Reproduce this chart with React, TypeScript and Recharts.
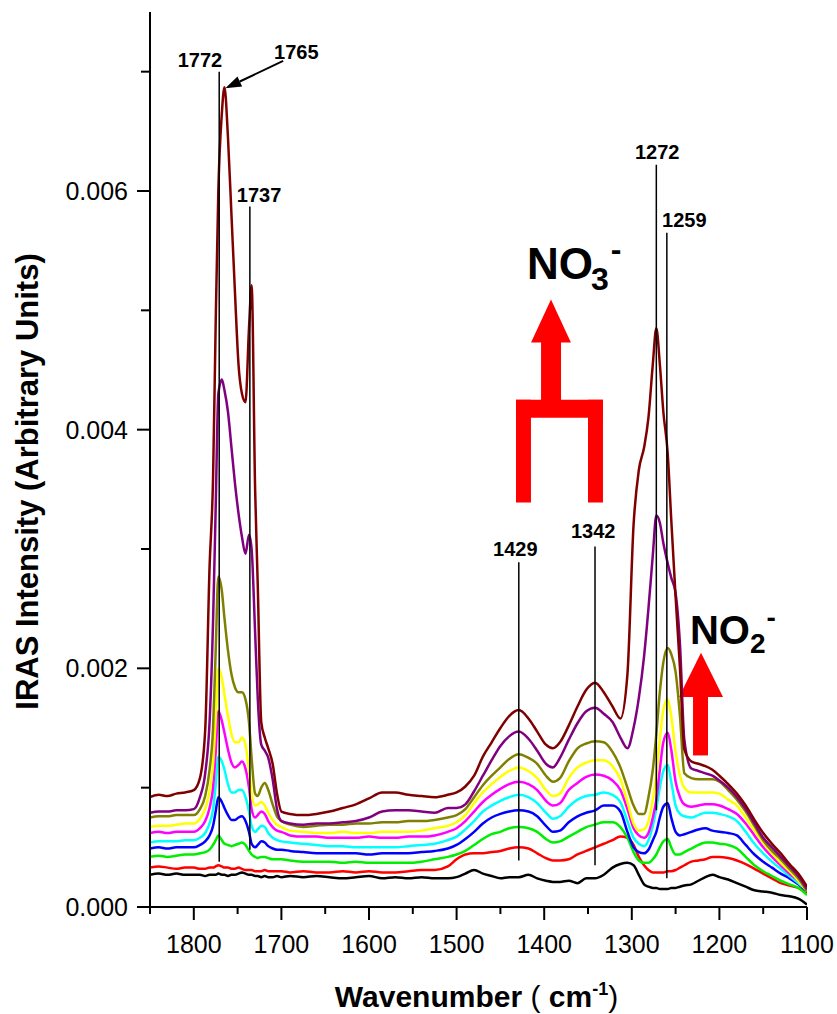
import { LineChart, Line, XAxis, YAxis, ReferenceLine, ReferenceArea, ReferenceDot } from 'recharts'

const FONT = "'Liberation Sans', Arial, sans-serif"

// wavenumber grid (cm-1)
const WAVENUMBERS = [
  1850, 1840, 1830, 1820, 1810, 1800,
  1793, 1787, 1782, 1778, 1775, 1772, 1768, 1765, 1761, 1757, 1753, 1749, 1745, 1741, 1737, 1734, 1730, 1727, 1723, 1719, 1715, 1710, 1705, 1700,
  1690, 1675, 1660, 1645, 1630, 1615, 1600, 1585, 1570, 1555, 1540, 1525, 1510,
  1500, 1490, 1480, 1470, 1460, 1450, 1440, 1429,
  1418, 1408, 1398, 1390, 1382, 1372, 1362, 1352, 1342,
  1332, 1322, 1313, 1305, 1298, 1292, 1286, 1281, 1276, 1272,
  1268, 1264, 1259, 1255, 1250, 1245, 1240, 1232, 1224, 1216, 1208, 1200,
  1190, 1180, 1170, 1160, 1150, 1140, 1130, 1120, 1110, 1100,
]

// intensities, in units of 1e-3
const BLACK = [
  0.27, 0.28, 0.27, 0.28, 0.27, 0.27,
  0.27, 0.26, 0.27, 0.27, 0.27, 0.28, 0.27, 0.27, 0.26, 0.27, 0.27, 0.28, 0.29, 0.28, 0.27, 0.27, 0.26, 0.26, 0.25, 0.26, 0.25, 0.25, 0.26, 0.25,
  0.26, 0.25, 0.26, 0.25, 0.24, 0.25, 0.26, 0.24, 0.25, 0.24, 0.25, 0.24, 0.24,
  0.25, 0.28, 0.31, 0.28, 0.26, 0.24, 0.25, 0.25,
  0.27, 0.24, 0.22, 0.21, 0.21, 0.22, 0.2, 0.24, 0.24,
  0.27, 0.33, 0.36, 0.37, 0.35, 0.27, 0.19, 0.17, 0.16, 0.16,
  0.15, 0.15, 0.15, 0.16, 0.16, 0.17, 0.18, 0.19, 0.22, 0.25, 0.27, 0.25,
  0.23, 0.2, 0.17, 0.14, 0.13, 0.12, 0.1, 0.09, 0.07, 0.02,
]
const RED = [
  0.33, 0.34, 0.33, 0.32, 0.33, 0.33,
  0.32, 0.32, 0.33, 0.33, 0.34, 0.35, 0.34, 0.33, 0.33, 0.32, 0.32, 0.33, 0.32, 0.31, 0.31, 0.31, 0.3, 0.3, 0.3, 0.31, 0.3, 0.3, 0.3, 0.3,
  0.29, 0.3, 0.29, 0.29, 0.3, 0.29, 0.3, 0.29, 0.29, 0.3, 0.31, 0.31, 0.34,
  0.4, 0.44, 0.45, 0.45, 0.46, 0.47, 0.49, 0.5,
  0.49, 0.45, 0.41, 0.39, 0.39, 0.4, 0.44, 0.47, 0.5,
  0.53, 0.56, 0.59, 0.58, 0.52, 0.42, 0.35, 0.31, 0.29, 0.29,
  0.29, 0.29, 0.3, 0.3, 0.31, 0.33, 0.35, 0.38, 0.39, 0.4, 0.42, 0.42,
  0.41, 0.39, 0.36, 0.32, 0.28, 0.24, 0.2, 0.18, 0.16, 0.12,
]
const GREEN = [
  0.42, 0.43, 0.42, 0.43, 0.44, 0.44,
  0.45, 0.46, 0.48, 0.52, 0.56, 0.6, 0.56, 0.53, 0.52, 0.51, 0.52, 0.53, 0.54, 0.52, 0.47, 0.44, 0.42, 0.41, 0.42, 0.42, 0.41, 0.4, 0.4, 0.4,
  0.39, 0.38, 0.38, 0.38, 0.37, 0.38, 0.37, 0.37, 0.37, 0.37, 0.38, 0.4, 0.42,
  0.44, 0.47, 0.52, 0.57, 0.61, 0.63, 0.66, 0.67,
  0.66, 0.63, 0.57, 0.54, 0.55, 0.59, 0.63, 0.67, 0.69,
  0.71, 0.71, 0.67, 0.58, 0.46, 0.39, 0.37, 0.37, 0.4, 0.44,
  0.5, 0.55, 0.57, 0.5, 0.44, 0.44, 0.46, 0.49, 0.52, 0.54, 0.54, 0.53,
  0.52, 0.49, 0.42, 0.35, 0.3, 0.26, 0.22, 0.19, 0.16, 0.1,
]
const BLUE = [
  0.49, 0.5, 0.49, 0.5, 0.5, 0.5,
  0.52, 0.55, 0.6, 0.68, 0.8, 0.92, 0.88, 0.83, 0.77, 0.73, 0.73, 0.75, 0.76, 0.72, 0.63, 0.53, 0.5, 0.52, 0.55, 0.54, 0.51, 0.49, 0.48, 0.48,
  0.47, 0.46, 0.45, 0.45, 0.45, 0.45, 0.44, 0.45, 0.45, 0.45, 0.46, 0.47, 0.49,
  0.52, 0.57, 0.63, 0.7, 0.75, 0.78, 0.8, 0.81,
  0.8, 0.76, 0.68, 0.63, 0.64, 0.71, 0.76, 0.79, 0.81,
  0.85, 0.85, 0.8, 0.63, 0.5, 0.46, 0.45, 0.48, 0.56, 0.63,
  0.75, 0.84, 0.87, 0.75, 0.63, 0.6, 0.61, 0.63, 0.65, 0.66, 0.64, 0.63,
  0.62, 0.6, 0.52, 0.44, 0.38, 0.33, 0.28, 0.24, 0.19, 0.13,
]
const CYAN = [
  0.54, 0.55, 0.55, 0.55, 0.56, 0.56,
  0.58, 0.62, 0.7, 0.82, 1.02, 1.26, 1.22, 1.15, 1.03, 0.96, 0.96, 0.98, 0.98, 0.92, 0.8, 0.68, 0.63, 0.65, 0.68, 0.67, 0.62, 0.58, 0.56, 0.55,
  0.54, 0.53, 0.52, 0.51, 0.51, 0.5, 0.5, 0.5, 0.5, 0.51, 0.52, 0.53, 0.56,
  0.59, 0.65, 0.72, 0.8, 0.85, 0.89, 0.92, 0.94,
  0.92, 0.87, 0.79, 0.74, 0.76, 0.84, 0.9, 0.93, 0.94,
  0.96, 0.94, 0.88, 0.72, 0.58, 0.53, 0.51, 0.56, 0.68, 0.82,
  1.0, 1.14, 1.19, 1.05, 0.85, 0.78, 0.76, 0.75, 0.77, 0.79, 0.79, 0.78,
  0.76, 0.72, 0.63, 0.53, 0.45, 0.38, 0.32, 0.26, 0.2, 0.14,
]
const MAGENTA = [
  0.62, 0.63, 0.62, 0.63, 0.63, 0.63,
  0.66, 0.72, 0.83, 1.0, 1.3, 1.64, 1.56, 1.46, 1.32, 1.21, 1.17, 1.19, 1.22, 1.16, 1.0, 0.82, 0.75, 0.77, 0.8, 0.78, 0.72, 0.67, 0.64, 0.63,
  0.6, 0.59, 0.59, 0.58, 0.58, 0.58, 0.59, 0.58, 0.58, 0.59, 0.59, 0.6, 0.63,
  0.66, 0.72, 0.8, 0.88, 0.94, 0.99, 1.03, 1.05,
  1.03, 0.98, 0.89, 0.85, 0.87, 0.98, 1.04, 1.09, 1.11,
  1.1, 1.06, 0.98, 0.82, 0.66, 0.6, 0.58, 0.62, 0.75, 0.9,
  1.15, 1.38, 1.46, 1.32, 1.05, 0.92, 0.86, 0.84, 0.85, 0.86, 0.86, 0.85,
  0.82, 0.78, 0.7, 0.6, 0.5, 0.42, 0.35, 0.28, 0.22, 0.14,
]
const YELLOW = [
  0.67, 0.68, 0.68, 0.69, 0.7, 0.7,
  0.74, 0.82, 0.97, 1.2, 1.58, 2.0, 1.92, 1.78, 1.6, 1.45, 1.38, 1.38, 1.42, 1.36, 1.14, 0.95, 0.85, 0.86, 0.88, 0.85, 0.79, 0.73, 0.69, 0.67,
  0.64, 0.63, 0.62, 0.62, 0.63, 0.62, 0.62, 0.63, 0.63, 0.63, 0.64, 0.66, 0.68,
  0.71, 0.77, 0.87, 0.96, 1.03, 1.09, 1.14, 1.17,
  1.14, 1.08, 0.98, 0.93, 0.95, 1.08, 1.17, 1.21, 1.23,
  1.23, 1.18, 1.07, 0.88, 0.7, 0.64, 0.65, 0.72, 0.9, 1.1,
  1.4, 1.65, 1.74, 1.6, 1.3, 1.1, 1.0, 0.96, 0.96, 0.96, 0.96, 0.95,
  0.9, 0.85, 0.75, 0.64, 0.54, 0.45, 0.37, 0.3, 0.22, 0.13,
]
const OLIVE = [
  0.75, 0.76, 0.76, 0.77, 0.77, 0.77,
  0.82, 0.93, 1.15, 1.5, 2.15, 2.77, 2.65, 2.42, 2.15, 1.95, 1.84, 1.8, 1.8, 1.74, 1.55, 1.25, 0.95, 0.93, 1.0, 1.04, 0.98, 0.86, 0.76, 0.72,
  0.69, 0.67, 0.68, 0.69, 0.69, 0.7, 0.7, 0.71, 0.71, 0.72, 0.72, 0.73, 0.75,
  0.77, 0.82, 0.92, 1.02, 1.1, 1.17, 1.24, 1.28,
  1.25, 1.2, 1.1, 1.05, 1.08, 1.22, 1.33, 1.37, 1.39,
  1.38, 1.3, 1.17, 1.0, 0.85, 0.78, 0.78, 0.92, 1.15, 1.45,
  1.8, 2.05, 2.17, 2.12, 1.97, 1.6, 1.12, 1.08, 1.07, 1.07, 1.07, 1.05,
  0.98, 0.9, 0.8, 0.68, 0.56, 0.47, 0.4, 0.32, 0.24, 0.13,
]
const PURPLE = [
  0.79, 0.8, 0.8, 0.81, 0.81, 0.82,
  0.92, 1.12, 1.55, 2.4, 3.35, 4.3, 4.42, 4.33, 4.15, 3.85, 3.55, 3.3, 3.1, 2.96, 3.12, 3.0, 2.3, 1.75, 1.36, 1.31, 1.25, 1.07, 0.82, 0.72,
  0.7, 0.69, 0.7, 0.7, 0.71, 0.72, 0.75, 0.8, 0.81, 0.81, 0.8, 0.79, 0.83,
  0.83, 0.86, 0.97, 1.1, 1.23, 1.35, 1.43, 1.47,
  1.41, 1.31, 1.2, 1.17, 1.25, 1.4, 1.54, 1.64, 1.67,
  1.62, 1.55, 1.42, 1.33, 1.5, 1.75, 2.1, 2.5, 2.95, 3.28,
  3.22, 3.05, 2.88, 2.76, 2.63, 2.2, 1.4, 1.16, 1.14, 1.12, 1.1, 1.06,
  1.0, 0.92, 0.82, 0.7, 0.58, 0.5, 0.42, 0.34, 0.26, 0.15,
]
const MAROON = [
  0.92, 0.94, 0.93, 0.95, 0.96, 0.98,
  1.08, 1.48, 2.85, 3.6, 4.9, 6.0, 6.65, 6.87, 6.45, 5.8, 5.15, 4.55, 4.3, 4.23, 4.85, 5.21, 3.5, 2.7, 1.55, 1.42, 1.33, 1.2, 0.95, 0.8,
  0.78, 0.77, 0.78, 0.8, 0.83, 0.86, 0.91, 0.96, 0.96, 0.94, 0.93, 0.92, 0.94,
  0.96, 1.01, 1.1, 1.26, 1.38, 1.5, 1.6, 1.65,
  1.58, 1.47, 1.36, 1.33, 1.38, 1.52, 1.68, 1.82, 1.88,
  1.8, 1.68, 1.58, 1.95, 3.2, 3.66, 3.85, 4.1, 4.55, 4.85,
  4.55, 4.15, 3.8, 3.25, 2.6, 2.0, 1.32, 1.22, 1.2, 1.18, 1.15, 1.1,
  1.03, 0.95, 0.85, 0.73, 0.62, 0.53, 0.45, 0.36, 0.28, 0.17,
]

const SERIES = [
  { key: 'black', color: '#000000', values: BLACK },
  { key: 'red', color: '#ff0000', values: RED },
  { key: 'green', color: '#00ee00', values: GREEN },
  { key: 'blue', color: '#0000ff', values: BLUE },
  { key: 'cyan', color: '#00ffff', values: CYAN },
  { key: 'magenta', color: '#ff00ff', values: MAGENTA },
  { key: 'yellow', color: '#ffff00', values: YELLOW },
  { key: 'olive', color: '#808000', values: OLIVE },
  { key: 'purple', color: '#800080', values: PURPLE },
  { key: 'maroon', color: '#800000', values: MAROON },
]

const X_TICKS = [1850, 1800, 1750, 1700, 1650, 1600, 1550, 1500, 1450, 1400, 1350, 1300, 1250, 1200, 1150, 1100]
const Y_TICKS = [0, 0.001, 0.002, 0.003, 0.004, 0.005, 0.006, 0.007]

// peak marker lines (wavenumber, bottom and top in 1e-3 units)
const PEAK_LINES = [
  { w: 1771, from: 0.38, to: 7.0 },
  { w: 1736, from: 0.48, to: 5.87 },
  { w: 1429, from: 0.39, to: 2.89 },
  { w: 1342, from: 0.35, to: 3.02 },
  { w: 1272, from: 0.81, to: 6.22 },
  { w: 1260, from: 0.24, to: 5.65 },
]
const PEAK_LABELS = [
  { text: '1772', w: 1793, v: 7.04 },
  { text: '1765', w: 1683, v: 7.11 },
  { text: '1737', w: 1725.5, v: 5.91 },
  { text: '1429', w: 1433, v: 2.94 },
  { text: '1342', w: 1344, v: 3.09 },
  { text: '1272', w: 1271, v: 6.27 },
  { text: '1259', w: 1240, v: 5.7 },
]
// arrow from the 1765 label to the peak
const ARROW_1765 = [{ w: 1698, v: 7.09 }, { w: 1764, v: 6.86 }]

// red shapes: [w1, w2, v1, v2]
const NO3_RECTS = [
  [1403.6, 1380.8, 4.22, 4.75],
  [1432.2, 1332.9, 4.1, 4.25],
  [1432.2, 1415.1, 3.39, 4.25],
  [1350, 1332.9, 3.39, 4.25],
]
const NO3_HEAD = [1415, 1369.5, 4.73, 5.09]
const NO2_RECTS = [[1230.1, 1213, 1.27, 1.78]]
const NO2_HEAD = [1246.1, 1195.9, 1.76, 2.13]

const rows = WAVENUMBERS.map((w, i) => {
  const row: Record<string, number> = { w }
  SERIES.forEach((s) => { row[s.key] = s.values[i] / 1000 })
  return row
})

// eslint-disable-next-line @typescript-eslint/no-explicit-any
const BottomTick = (p: any) => {
  const { x, y, payload } = p
  const major = payload.value % 100 === 0
  return (
    <g>
      <line x1={x} y1={y} x2={x} y2={y + (major ? 13 : 7)} stroke="#000" strokeWidth={2} />
      {major && (
        <text x={x} y={y + 46} textAnchor="middle" fontSize={25} fontFamily={FONT} fill="#000">
          {payload.value}
        </text>
      )}
    </g>
  )
}
// eslint-disable-next-line @typescript-eslint/no-explicit-any
const TopTick = (p: any) => <line x1={p.x} y1={p.y} x2={p.x} y2={p.y + 5} stroke="#000" strokeWidth={1.5} />
// eslint-disable-next-line @typescript-eslint/no-explicit-any
const LeftTick = (p: any) => {
  const { x, y, payload } = p
  const major = Math.round(payload.value * 1000) % 2 === 0
  return (
    <g>
      <line x1={x - (major ? 13 : 9)} y1={y} x2={x} y2={y} stroke="#000" strokeWidth={2} />
      {major && (
        <text x={x - 22} y={y + 9} textAnchor="end" fontSize={25} fontFamily={FONT} fill="#000">
          {payload.value.toFixed(3)}
        </text>
      )}
    </g>
  )
}
// eslint-disable-next-line @typescript-eslint/no-explicit-any
const RightTick = (p: any) => <line x1={p.x - 5} y1={p.y} x2={p.x} y2={p.y} stroke="#000" strokeWidth={1.5} />

// eslint-disable-next-line @typescript-eslint/no-explicit-any
const Triangle = (p: any) => {
  const { x, y, width, height } = p
  return <polygon points={`${x},${y + height} ${x + width},${y + height} ${x + width / 2},${y}`} fill="#ff0000" />
}

// eslint-disable-next-line @typescript-eslint/no-explicit-any
const ArrowShape = (p: any) => {
  const { x1, y1, x2, y2 } = p
  const ang = Math.atan2(y2 - y1, x2 - x1)
  const len = 16
  const half = 5.5
  const bx = x2 - len * Math.cos(ang)
  const by = y2 - len * Math.sin(ang)
  const px = -Math.sin(ang) * half
  const py = Math.cos(ang) * half
  return (
    <g>
      <line x1={x1} y1={y1} x2={bx} y2={by} stroke="#000" strokeWidth={2} />
      <polygon points={`${x2},${y2} ${bx + px},${by + py} ${bx - px},${by - py}`} fill="#000" />
    </g>
  )
}

// eslint-disable-next-line @typescript-eslint/no-explicit-any
const centerOf = (vb: any) => ({ cx: vb.x + (vb.width || 0) / 2, cy: vb.y + (vb.height || 0) / 2 })

const peakLabel = (text: string) =>
  // eslint-disable-next-line @typescript-eslint/no-explicit-any
  (p: any) => {
    const { cx, cy } = centerOf(p.viewBox)
    return (
      <text x={cx} y={cy} textAnchor="middle" fontSize={20} fontWeight="bold" fontFamily={FONT} fill="#000">
        {text}
      </text>
    )
  }

// eslint-disable-next-line @typescript-eslint/no-explicit-any
const no3Label = (p: any) => {
  const { cx, cy } = centerOf(p.viewBox)
  return (
    <text x={cx} y={cy} fontFamily={FONT} fontWeight="bold" fill="#000" fontSize={44}>
      NO
      <tspan dx={-2} dy={11} fontSize={32}>3</tspan>
      <tspan dx={2} dy={-30} fontSize={32}>-</tspan>
    </text>
  )
}
// eslint-disable-next-line @typescript-eslint/no-explicit-any
const no2Label = (p: any) => {
  const { cx, cy } = centerOf(p.viewBox)
  return (
    <text x={cx} y={cy} fontFamily={FONT} fontWeight="bold" fill="#000" fontSize={40}>
      NO
      <tspan dx={0} dy={9} fontSize={28}>2</tspan>
      <tspan dx={1} dy={-26} fontSize={28}>-</tspan>
    </text>
  )
}

export default function App() {
  return (
    <div style={{ position: 'absolute', left: 0, top: 0, width: 837, height: 1014, background: '#fff' }}>
      <LineChart
        width={837}
        height={1014}
        data={rows}
        margin={{ top: 12, right: 30, bottom: 47, left: 70 }}
        style={{ fontFamily: FONT }}
      >
        <XAxis
          dataKey="w"
          type="number"
          domain={[1100, 1850]}
          reversed
          ticks={X_TICKS}
          interval={0}
          tickSize={0}
          tickMargin={0}
          tickLine={false}
          tick={<BottomTick />}
          axisLine={{ stroke: '#000', strokeWidth: 2 }}
          height={60}
          allowDataOverflow
          label={{
            // eslint-disable-next-line @typescript-eslint/no-explicit-any
            content: (p: any) => {
              const vb = p.viewBox
              return (
                <text x={vb.x + vb.width / 2 - 2} y={vb.y + 100} textAnchor="middle" fontFamily={FONT} fontWeight="bold" fontSize={30} fill="#000">
                  Wavenumber <tspan fontWeight="normal">(</tspan> cm
                  <tspan dy={-12} fontSize={18}>-1</tspan>
                  <tspan dy={12} fontWeight="normal">)</tspan>
                </text>
              )
            },
          }}
        />
        <XAxis
          xAxisId="top"
          orientation="top"
          dataKey="w"
          type="number"
          domain={[1100, 1850]}
          reversed
          ticks={X_TICKS}
          interval={0}
          tickSize={0}
          tickMargin={0}
          tickLine={false}
          tick={<TopTick />}
          axisLine={{ stroke: '#000', strokeWidth: 2 }}
          height={0}
          allowDataOverflow
        />
        <YAxis
          type="number"
          domain={[0, 0.0075]}
          ticks={Y_TICKS}
          interval={0}
          tickSize={0}
          tickMargin={0}
          tickLine={false}
          tick={<LeftTick />}
          axisLine={{ stroke: '#000', strokeWidth: 2 }}
          width={80}
          allowDataOverflow
          label={{
            // eslint-disable-next-line @typescript-eslint/no-explicit-any
            content: (p: any) => {
              const vb = p.viewBox
              const cx = vb.x - 43
              const cy = vb.y + vb.height / 2 + 22
              return (
                <text x={cx} y={cy} transform={`rotate(-90 ${cx} ${cy})`} textAnchor="middle" dominantBaseline="central" fontFamily={FONT} fontWeight="bold" fontSize={31} fill="#000">
                  IRAS Intensity (Arbitrary Units)
                </text>
              )
            },
          }}
        />
        <YAxis
          yAxisId="right"
          orientation="right"
          type="number"
          domain={[0, 0.0075]}
          ticks={Y_TICKS}
          interval={0}
          tickSize={0}
          tickMargin={0}
          tickLine={false}
          tick={<RightTick />}
          axisLine={{ stroke: '#000', strokeWidth: 2 }}
          width={0}
          allowDataOverflow
        />

        {SERIES.map((s) => (
          <Line
            key={s.key}
            type="monotone"
            dataKey={s.key}
            stroke={s.color}
            strokeWidth={2.5}
            dot={false}
            activeDot={false}
            isAnimationActive={false}
          />
        ))}

        {PEAK_LINES.map((l) => (
          <ReferenceLine
            key={l.w}
            segment={[{ x: l.w, y: l.from / 1000 }, { x: l.w, y: l.to / 1000 }]}
            stroke="#000"
            strokeWidth={1.5}
          />
        ))}
        <ReferenceLine
          segment={ARROW_1765.map((a) => ({ x: a.w, y: a.v / 1000 }))}
          shape={<ArrowShape />}
        />
        {PEAK_LABELS.map((l) => (
          <ReferenceDot key={l.text} x={l.w} y={l.v / 1000} r={1} fill="none" stroke="none" label={peakLabel(l.text)} />
        ))}

        {NO3_RECTS.concat(NO2_RECTS).map((r, i) => (
          <ReferenceArea key={i} x1={r[0]} x2={r[1]} y1={r[2] / 1000} y2={r[3] / 1000} fill="#ff0000" fillOpacity={1} stroke="none" />
        ))}
        {[NO3_HEAD, NO2_HEAD].map((r, i) => (
          <ReferenceArea key={'h' + i} x1={r[0]} x2={r[1]} y1={r[2] / 1000} y2={r[3] / 1000} shape={<Triangle />} />
        ))}
        <ReferenceDot x={1419.6} y={5.26 / 1000} r={1} fill="none" stroke="none" label={no3Label} />
        <ReferenceDot x={1233.6} y={2.2 / 1000} r={1} fill="none" stroke="none" label={no2Label} />
      </LineChart>
    </div>
  )
}
